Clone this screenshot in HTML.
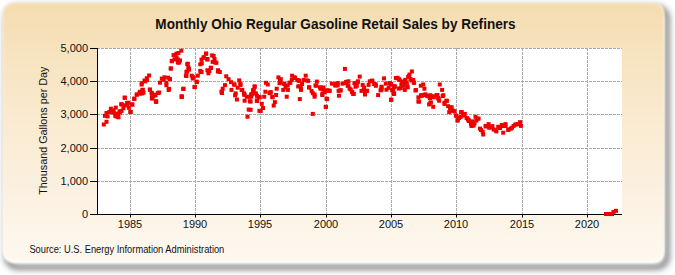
<!DOCTYPE html>
<html><head><meta charset="utf-8"><style>
html,body{margin:0;padding:0;background:#fff;}
body{width:675px;height:275px;overflow:hidden;position:relative;}
svg{position:absolute;left:0;top:0;}
text{font-family:"Liberation Sans",sans-serif;}
</style></head><body>
<svg width="675" height="275" viewBox="0 0 675 275">
<defs>
<linearGradient id="bg" x1="0" y1="0" x2="0" y2="1">
<stop offset="0" stop-color="#F5DDB1"/>
<stop offset="0.5" stop-color="#FAEBD3"/>
<stop offset="1" stop-color="#FEF8F0"/>
</linearGradient>
<filter id="sh" x="-10%" y="-10%" width="120%" height="120%"><feGaussianBlur stdDeviation="3.2"/></filter>
<filter id="sb" x="-5%" y="-5%" width="110%" height="110%"><feGaussianBlur stdDeviation="1"/></filter>
</defs>
<rect x="7" y="8" width="660" height="259" rx="10" ry="10" fill="none" stroke="#3c3c3c" stroke-width="3.5" filter="url(#sh)"/>
<rect x="3" y="3" width="661" height="260" rx="10" ry="10" fill="#fff" filter="url(#sb)"/>
<rect x="3" y="3" width="661" height="258" rx="10" ry="10" fill="url(#bg)" filter="url(#sb)"/>
<rect x="97" y="48" width="525" height="166" fill="#fff"/>
<line x1="97" y1="181.5" x2="622" y2="181.5" stroke="#a8a8a8" stroke-width="1" stroke-dasharray="3,1"/>
<line x1="97" y1="148.5" x2="622" y2="148.5" stroke="#a8a8a8" stroke-width="1" stroke-dasharray="3,1"/>
<line x1="97" y1="114.5" x2="622" y2="114.5" stroke="#a8a8a8" stroke-width="1" stroke-dasharray="3,1"/>
<line x1="97" y1="81.5" x2="622" y2="81.5" stroke="#a8a8a8" stroke-width="1" stroke-dasharray="3,1"/>
<line x1="97" y1="48.5" x2="622" y2="48.5" stroke="#a8a8a8" stroke-width="1" stroke-dasharray="3,1"/>
<line x1="130.5" y1="48" x2="130.5" y2="214" stroke="#a8a8a8" stroke-width="1" stroke-dasharray="3,1"/>
<line x1="195.5" y1="48" x2="195.5" y2="214" stroke="#a8a8a8" stroke-width="1" stroke-dasharray="3,1"/>
<line x1="260.5" y1="48" x2="260.5" y2="214" stroke="#a8a8a8" stroke-width="1" stroke-dasharray="3,1"/>
<line x1="326.5" y1="48" x2="326.5" y2="214" stroke="#a8a8a8" stroke-width="1" stroke-dasharray="3,1"/>
<line x1="391.5" y1="48" x2="391.5" y2="214" stroke="#a8a8a8" stroke-width="1" stroke-dasharray="3,1"/>
<line x1="456.5" y1="48" x2="456.5" y2="214" stroke="#a8a8a8" stroke-width="1" stroke-dasharray="3,1"/>
<line x1="522.5" y1="48" x2="522.5" y2="214" stroke="#a8a8a8" stroke-width="1" stroke-dasharray="3,1"/>
<line x1="587.5" y1="48" x2="587.5" y2="214" stroke="#a8a8a8" stroke-width="1" stroke-dasharray="3,1"/>
<line x1="97.5" y1="48" x2="97.5" y2="215" stroke="#000" stroke-width="1"/>
<line x1="97" y1="214.5" x2="622" y2="214.5" stroke="#000" stroke-width="1"/>
<line x1="90" y1="214.5" x2="97" y2="214.5" stroke="#000" stroke-width="1"/>
<text transform="translate(88,217.7) scale(1,1.07)" font-size="11" text-anchor="end" fill="#111">0</text>
<line x1="90" y1="181.5" x2="97" y2="181.5" stroke="#000" stroke-width="1"/>
<text transform="translate(88,184.7) scale(1,1.07)" font-size="11" text-anchor="end" fill="#111">1,000</text>
<line x1="90" y1="148.5" x2="97" y2="148.5" stroke="#000" stroke-width="1"/>
<text transform="translate(88,151.7) scale(1,1.07)" font-size="11" text-anchor="end" fill="#111">2,000</text>
<line x1="90" y1="114.5" x2="97" y2="114.5" stroke="#000" stroke-width="1"/>
<text transform="translate(88,117.7) scale(1,1.07)" font-size="11" text-anchor="end" fill="#111">3,000</text>
<line x1="90" y1="81.5" x2="97" y2="81.5" stroke="#000" stroke-width="1"/>
<text transform="translate(88,84.7) scale(1,1.07)" font-size="11" text-anchor="end" fill="#111">4,000</text>
<line x1="90" y1="48.5" x2="97" y2="48.5" stroke="#000" stroke-width="1"/>
<text transform="translate(88,51.7) scale(1,1.07)" font-size="11" text-anchor="end" fill="#111">5,000</text>
<line x1="130.5" y1="215" x2="130.5" y2="217.5" stroke="#000" stroke-width="1"/>
<text transform="translate(130.0,227.7) scale(1,1.07)" font-size="11" text-anchor="middle" fill="#111">1985</text>
<line x1="195.5" y1="215" x2="195.5" y2="217.5" stroke="#000" stroke-width="1"/>
<text transform="translate(195.0,227.7) scale(1,1.07)" font-size="11" text-anchor="middle" fill="#111">1990</text>
<line x1="260.5" y1="215" x2="260.5" y2="217.5" stroke="#000" stroke-width="1"/>
<text transform="translate(260.0,227.7) scale(1,1.07)" font-size="11" text-anchor="middle" fill="#111">1995</text>
<line x1="326.5" y1="215" x2="326.5" y2="217.5" stroke="#000" stroke-width="1"/>
<text transform="translate(326.0,227.7) scale(1,1.07)" font-size="11" text-anchor="middle" fill="#111">2000</text>
<line x1="391.5" y1="215" x2="391.5" y2="217.5" stroke="#000" stroke-width="1"/>
<text transform="translate(391.0,227.7) scale(1,1.07)" font-size="11" text-anchor="middle" fill="#111">2005</text>
<line x1="456.5" y1="215" x2="456.5" y2="217.5" stroke="#000" stroke-width="1"/>
<text transform="translate(456.0,227.7) scale(1,1.07)" font-size="11" text-anchor="middle" fill="#111">2010</text>
<line x1="522.5" y1="215" x2="522.5" y2="217.5" stroke="#000" stroke-width="1"/>
<text transform="translate(522.0,227.7) scale(1,1.07)" font-size="11" text-anchor="middle" fill="#111">2015</text>
<line x1="587.5" y1="215" x2="587.5" y2="217.5" stroke="#000" stroke-width="1"/>
<text transform="translate(587.0,227.7) scale(1,1.07)" font-size="11" text-anchor="middle" fill="#111">2020</text>
<rect x="101.8" y="122.5" width="4" height="4" fill="#EE0000"/>
<rect x="104.5" y="119.8" width="4" height="4" fill="#EE0000"/>
<rect x="102.9" y="113.8" width="4" height="4" fill="#EE0000"/>
<rect x="105.6" y="114.4" width="4" height="4" fill="#EE0000"/>
<rect x="104.5" y="111.0" width="4" height="4" fill="#EE0000"/>
<rect x="107.3" y="110.0" width="4" height="4" fill="#EE0000"/>
<rect x="108.9" y="106.7" width="4" height="4" fill="#EE0000"/>
<rect x="111.6" y="108.4" width="4" height="4" fill="#EE0000"/>
<rect x="113.8" y="105.6" width="4" height="4" fill="#EE0000"/>
<rect x="113.3" y="113.8" width="4" height="4" fill="#EE0000"/>
<rect x="116.0" y="114.4" width="4" height="4" fill="#EE0000"/>
<rect x="117.6" y="109.5" width="4" height="4" fill="#EE0000"/>
<rect x="119.8" y="102.4" width="4" height="4" fill="#EE0000"/>
<rect x="121.4" y="106.2" width="4" height="4" fill="#EE0000"/>
<rect x="111.0" y="109.2" width="4" height="4" fill="#EE0000"/>
<rect x="125.1" y="103.3" width="4" height="4" fill="#EE0000"/>
<rect x="128.3" y="110.1" width="4" height="4" fill="#EE0000"/>
<rect x="130.5" y="102.8" width="4" height="4" fill="#EE0000"/>
<rect x="122.8" y="95.7" width="4" height="4" fill="#EE0000"/>
<rect x="126.0" y="100.7" width="4" height="4" fill="#EE0000"/>
<rect x="132.4" y="96.6" width="4" height="4" fill="#EE0000"/>
<rect x="135.1" y="92.5" width="4" height="4" fill="#EE0000"/>
<rect x="137.8" y="89.8" width="4" height="4" fill="#EE0000"/>
<rect x="140.5" y="88.0" width="4" height="4" fill="#EE0000"/>
<rect x="141.5" y="90.7" width="4" height="4" fill="#EE0000"/>
<rect x="139.6" y="82.5" width="4" height="4" fill="#EE0000"/>
<rect x="143.3" y="79.4" width="4" height="4" fill="#EE0000"/>
<rect x="145.0" y="78.0" width="4" height="4" fill="#EE0000"/>
<rect x="147.8" y="87.5" width="4" height="4" fill="#EE0000"/>
<rect x="149.6" y="90.7" width="4" height="4" fill="#EE0000"/>
<rect x="150.5" y="96.2" width="4" height="4" fill="#EE0000"/>
<rect x="152.4" y="93.5" width="4" height="4" fill="#EE0000"/>
<rect x="154.2" y="99.8" width="4" height="4" fill="#EE0000"/>
<rect x="147.1" y="73.5" width="4" height="4" fill="#EE0000"/>
<rect x="144.8" y="76.2" width="4" height="4" fill="#EE0000"/>
<rect x="142.5" y="78.5" width="4" height="4" fill="#EE0000"/>
<rect x="139.8" y="81.2" width="4" height="4" fill="#EE0000"/>
<rect x="159.8" y="76.6" width="4" height="4" fill="#EE0000"/>
<rect x="162.5" y="75.3" width="4" height="4" fill="#EE0000"/>
<rect x="166.2" y="75.7" width="4" height="4" fill="#EE0000"/>
<rect x="168.0" y="77.1" width="4" height="4" fill="#EE0000"/>
<rect x="158.0" y="80.7" width="4" height="4" fill="#EE0000"/>
<rect x="164.4" y="80.7" width="4" height="4" fill="#EE0000"/>
<rect x="168.9" y="66.6" width="4" height="4" fill="#EE0000"/>
<rect x="169.8" y="58.9" width="4" height="4" fill="#EE0000"/>
<rect x="176.2" y="60.7" width="4" height="4" fill="#EE0000"/>
<rect x="178.0" y="58.5" width="4" height="4" fill="#EE0000"/>
<rect x="185.3" y="62.1" width="4" height="4" fill="#EE0000"/>
<rect x="184.4" y="69.8" width="4" height="4" fill="#EE0000"/>
<rect x="184.4" y="73.9" width="4" height="4" fill="#EE0000"/>
<rect x="140.7" y="87.8" width="4" height="4" fill="#EE0000"/>
<rect x="139.8" y="91.5" width="4" height="4" fill="#EE0000"/>
<rect x="148.0" y="87.8" width="4" height="4" fill="#EE0000"/>
<rect x="149.8" y="91.5" width="4" height="4" fill="#EE0000"/>
<rect x="149.8" y="96.5" width="4" height="4" fill="#EE0000"/>
<rect x="153.9" y="99.2" width="4" height="4" fill="#EE0000"/>
<rect x="153.5" y="93.3" width="4" height="4" fill="#EE0000"/>
<rect x="157.1" y="90.5" width="4" height="4" fill="#EE0000"/>
<rect x="161.6" y="77.8" width="4" height="4" fill="#EE0000"/>
<rect x="164.4" y="83.3" width="4" height="4" fill="#EE0000"/>
<rect x="167.1" y="86.9" width="4" height="4" fill="#EE0000"/>
<rect x="181.2" y="86.9" width="4" height="4" fill="#EE0000"/>
<rect x="179.8" y="95.1" width="4" height="4" fill="#EE0000"/>
<rect x="192.5" y="85.1" width="4" height="4" fill="#EE0000"/>
<rect x="194.8" y="80.1" width="4" height="4" fill="#EE0000"/>
<rect x="190.7" y="76.5" width="4" height="4" fill="#EE0000"/>
<rect x="179.3" y="48.7" width="4" height="4" fill="#EE0000"/>
<rect x="176.4" y="51.0" width="4" height="4" fill="#EE0000"/>
<rect x="172.8" y="53.4" width="4" height="4" fill="#EE0000"/>
<rect x="174.6" y="55.8" width="4" height="4" fill="#EE0000"/>
<rect x="169.8" y="59.3" width="4" height="4" fill="#EE0000"/>
<rect x="175.8" y="59.9" width="4" height="4" fill="#EE0000"/>
<rect x="168.7" y="66.4" width="4" height="4" fill="#EE0000"/>
<rect x="185.8" y="61.7" width="4" height="4" fill="#EE0000"/>
<rect x="187.0" y="67.6" width="4" height="4" fill="#EE0000"/>
<rect x="204.2" y="51.6" width="4" height="4" fill="#EE0000"/>
<rect x="201.8" y="55.2" width="4" height="4" fill="#EE0000"/>
<rect x="199.5" y="57.6" width="4" height="4" fill="#EE0000"/>
<rect x="210.1" y="53.4" width="4" height="4" fill="#EE0000"/>
<rect x="205.4" y="57.0" width="4" height="4" fill="#EE0000"/>
<rect x="212.5" y="57.0" width="4" height="4" fill="#EE0000"/>
<rect x="213.1" y="60.5" width="4" height="4" fill="#EE0000"/>
<rect x="198.3" y="62.3" width="4" height="4" fill="#EE0000"/>
<rect x="209.0" y="65.8" width="4" height="4" fill="#EE0000"/>
<rect x="198.3" y="68.8" width="4" height="4" fill="#EE0000"/>
<rect x="205.4" y="68.2" width="4" height="4" fill="#EE0000"/>
<rect x="216.1" y="68.2" width="4" height="4" fill="#EE0000"/>
<rect x="186.3" y="65.4" width="4" height="4" fill="#EE0000"/>
<rect x="185.1" y="69.5" width="4" height="4" fill="#EE0000"/>
<rect x="183.9" y="73.7" width="4" height="4" fill="#EE0000"/>
<rect x="189.8" y="73.7" width="4" height="4" fill="#EE0000"/>
<rect x="191.6" y="75.4" width="4" height="4" fill="#EE0000"/>
<rect x="195.8" y="73.7" width="4" height="4" fill="#EE0000"/>
<rect x="198.7" y="70.1" width="4" height="4" fill="#EE0000"/>
<rect x="194.6" y="79.6" width="4" height="4" fill="#EE0000"/>
<rect x="192.8" y="84.9" width="4" height="4" fill="#EE0000"/>
<rect x="181.6" y="86.7" width="4" height="4" fill="#EE0000"/>
<rect x="179.8" y="94.4" width="4" height="4" fill="#EE0000"/>
<rect x="206.4" y="71.3" width="4" height="4" fill="#EE0000"/>
<rect x="208.8" y="66.0" width="4" height="4" fill="#EE0000"/>
<rect x="215.9" y="69.5" width="4" height="4" fill="#EE0000"/>
<rect x="224.2" y="74.3" width="4" height="4" fill="#EE0000"/>
<rect x="226.6" y="77.2" width="4" height="4" fill="#EE0000"/>
<rect x="229.0" y="80.2" width="4" height="4" fill="#EE0000"/>
<rect x="232.5" y="82.6" width="4" height="4" fill="#EE0000"/>
<rect x="237.2" y="78.4" width="4" height="4" fill="#EE0000"/>
<rect x="238.4" y="81.9" width="4" height="4" fill="#EE0000"/>
<rect x="223.0" y="83.1" width="4" height="4" fill="#EE0000"/>
<rect x="220.7" y="86.7" width="4" height="4" fill="#EE0000"/>
<rect x="219.5" y="89.7" width="4" height="4" fill="#EE0000"/>
<rect x="229.5" y="87.9" width="4" height="4" fill="#EE0000"/>
<rect x="233.7" y="91.4" width="4" height="4" fill="#EE0000"/>
<rect x="239.6" y="87.9" width="4" height="4" fill="#EE0000"/>
<rect x="242.0" y="91.4" width="4" height="4" fill="#EE0000"/>
<rect x="249.1" y="92.6" width="4" height="4" fill="#EE0000"/>
<rect x="252.6" y="84.9" width="4" height="4" fill="#EE0000"/>
<rect x="251.5" y="89.1" width="4" height="4" fill="#EE0000"/>
<rect x="255.0" y="93.8" width="4" height="4" fill="#EE0000"/>
<rect x="220.0" y="91.0" width="4" height="4" fill="#EE0000"/>
<rect x="233.1" y="93.4" width="4" height="4" fill="#EE0000"/>
<rect x="234.9" y="97.5" width="4" height="4" fill="#EE0000"/>
<rect x="242.6" y="92.8" width="4" height="4" fill="#EE0000"/>
<rect x="242.6" y="98.7" width="4" height="4" fill="#EE0000"/>
<rect x="247.9" y="99.3" width="4" height="4" fill="#EE0000"/>
<rect x="249.1" y="94.0" width="4" height="4" fill="#EE0000"/>
<rect x="255.0" y="98.7" width="4" height="4" fill="#EE0000"/>
<rect x="256.8" y="95.1" width="4" height="4" fill="#EE0000"/>
<rect x="246.7" y="107.6" width="4" height="4" fill="#EE0000"/>
<rect x="245.5" y="114.7" width="4" height="4" fill="#EE0000"/>
<rect x="257.4" y="108.8" width="4" height="4" fill="#EE0000"/>
<rect x="252.7" y="84.3" width="4" height="4" fill="#EE0000"/>
<rect x="251.6" y="88.5" width="4" height="4" fill="#EE0000"/>
<rect x="253.9" y="91.4" width="4" height="4" fill="#EE0000"/>
<rect x="264.0" y="80.8" width="4" height="4" fill="#EE0000"/>
<rect x="265.8" y="82.5" width="4" height="4" fill="#EE0000"/>
<rect x="263.4" y="89.7" width="4" height="4" fill="#EE0000"/>
<rect x="268.7" y="90.3" width="4" height="4" fill="#EE0000"/>
<rect x="274.7" y="86.7" width="4" height="4" fill="#EE0000"/>
<rect x="276.4" y="75.4" width="4" height="4" fill="#EE0000"/>
<rect x="278.8" y="77.2" width="4" height="4" fill="#EE0000"/>
<rect x="278.2" y="80.2" width="4" height="4" fill="#EE0000"/>
<rect x="282.4" y="82.0" width="4" height="4" fill="#EE0000"/>
<rect x="283.5" y="85.5" width="4" height="4" fill="#EE0000"/>
<rect x="281.2" y="87.9" width="4" height="4" fill="#EE0000"/>
<rect x="285.9" y="87.9" width="4" height="4" fill="#EE0000"/>
<rect x="288.3" y="80.8" width="4" height="4" fill="#EE0000"/>
<rect x="290.1" y="73.7" width="4" height="4" fill="#EE0000"/>
<rect x="293.0" y="76.0" width="4" height="4" fill="#EE0000"/>
<rect x="296.6" y="78.4" width="4" height="4" fill="#EE0000"/>
<rect x="297.8" y="84.3" width="4" height="4" fill="#EE0000"/>
<rect x="299.0" y="87.9" width="4" height="4" fill="#EE0000"/>
<rect x="300.1" y="82.0" width="4" height="4" fill="#EE0000"/>
<rect x="303.7" y="73.7" width="4" height="4" fill="#EE0000"/>
<rect x="304.9" y="78.4" width="4" height="4" fill="#EE0000"/>
<rect x="307.2" y="85.5" width="4" height="4" fill="#EE0000"/>
<rect x="309.6" y="89.1" width="4" height="4" fill="#EE0000"/>
<rect x="312.6" y="92.6" width="4" height="4" fill="#EE0000"/>
<rect x="314.9" y="79.6" width="4" height="4" fill="#EE0000"/>
<rect x="314.3" y="83.7" width="4" height="4" fill="#EE0000"/>
<rect x="318.5" y="86.7" width="4" height="4" fill="#EE0000"/>
<rect x="321.5" y="85.5" width="4" height="4" fill="#EE0000"/>
<rect x="322.6" y="90.3" width="4" height="4" fill="#EE0000"/>
<rect x="326.2" y="88.5" width="4" height="4" fill="#EE0000"/>
<rect x="250.4" y="91.8" width="4" height="4" fill="#EE0000"/>
<rect x="249.2" y="94.7" width="4" height="4" fill="#EE0000"/>
<rect x="248.6" y="99.5" width="4" height="4" fill="#EE0000"/>
<rect x="248.6" y="107.8" width="4" height="4" fill="#EE0000"/>
<rect x="255.1" y="98.9" width="4" height="4" fill="#EE0000"/>
<rect x="257.5" y="95.3" width="4" height="4" fill="#EE0000"/>
<rect x="262.2" y="94.7" width="4" height="4" fill="#EE0000"/>
<rect x="267.5" y="91.2" width="4" height="4" fill="#EE0000"/>
<rect x="270.5" y="95.3" width="4" height="4" fill="#EE0000"/>
<rect x="274.1" y="93.0" width="4" height="4" fill="#EE0000"/>
<rect x="272.9" y="100.1" width="4" height="4" fill="#EE0000"/>
<rect x="271.7" y="103.6" width="4" height="4" fill="#EE0000"/>
<rect x="259.8" y="101.8" width="4" height="4" fill="#EE0000"/>
<rect x="261.0" y="106.0" width="4" height="4" fill="#EE0000"/>
<rect x="258.7" y="109.0" width="4" height="4" fill="#EE0000"/>
<rect x="284.7" y="94.7" width="4" height="4" fill="#EE0000"/>
<rect x="297.8" y="97.1" width="4" height="4" fill="#EE0000"/>
<rect x="310.8" y="91.2" width="4" height="4" fill="#EE0000"/>
<rect x="312.6" y="94.7" width="4" height="4" fill="#EE0000"/>
<rect x="310.8" y="111.9" width="4" height="4" fill="#EE0000"/>
<rect x="320.3" y="93.0" width="4" height="4" fill="#EE0000"/>
<rect x="325.0" y="97.1" width="4" height="4" fill="#EE0000"/>
<rect x="323.8" y="104.8" width="4" height="4" fill="#EE0000"/>
<rect x="342.9" y="66.9" width="4" height="4" fill="#EE0000"/>
<rect x="319.2" y="85.8" width="4" height="4" fill="#EE0000"/>
<rect x="329.8" y="81.7" width="4" height="4" fill="#EE0000"/>
<rect x="333.4" y="82.9" width="4" height="4" fill="#EE0000"/>
<rect x="335.8" y="81.1" width="4" height="4" fill="#EE0000"/>
<rect x="340.5" y="81.7" width="4" height="4" fill="#EE0000"/>
<rect x="344.1" y="79.9" width="4" height="4" fill="#EE0000"/>
<rect x="346.4" y="79.3" width="4" height="4" fill="#EE0000"/>
<rect x="346.4" y="83.5" width="4" height="4" fill="#EE0000"/>
<rect x="348.8" y="87.6" width="4" height="4" fill="#EE0000"/>
<rect x="352.4" y="81.1" width="4" height="4" fill="#EE0000"/>
<rect x="355.9" y="79.3" width="4" height="4" fill="#EE0000"/>
<rect x="357.7" y="74.6" width="4" height="4" fill="#EE0000"/>
<rect x="353.5" y="84.7" width="4" height="4" fill="#EE0000"/>
<rect x="360.7" y="82.9" width="4" height="4" fill="#EE0000"/>
<rect x="361.8" y="87.6" width="4" height="4" fill="#EE0000"/>
<rect x="367.8" y="79.3" width="4" height="4" fill="#EE0000"/>
<rect x="370.1" y="78.7" width="4" height="4" fill="#EE0000"/>
<rect x="366.6" y="82.9" width="4" height="4" fill="#EE0000"/>
<rect x="373.7" y="82.3" width="4" height="4" fill="#EE0000"/>
<rect x="379.6" y="84.7" width="4" height="4" fill="#EE0000"/>
<rect x="382.0" y="76.4" width="4" height="4" fill="#EE0000"/>
<rect x="383.8" y="81.7" width="4" height="4" fill="#EE0000"/>
<rect x="387.9" y="81.1" width="4" height="4" fill="#EE0000"/>
<rect x="386.7" y="85.8" width="4" height="4" fill="#EE0000"/>
<rect x="392.6" y="84.7" width="4" height="4" fill="#EE0000"/>
<rect x="395.6" y="75.8" width="4" height="4" fill="#EE0000"/>
<rect x="320.4" y="91.9" width="4" height="4" fill="#EE0000"/>
<rect x="322.7" y="88.9" width="4" height="4" fill="#EE0000"/>
<rect x="324.5" y="96.6" width="4" height="4" fill="#EE0000"/>
<rect x="323.9" y="104.9" width="4" height="4" fill="#EE0000"/>
<rect x="327.5" y="88.9" width="4" height="4" fill="#EE0000"/>
<rect x="333.4" y="83.6" width="4" height="4" fill="#EE0000"/>
<rect x="338.7" y="88.3" width="4" height="4" fill="#EE0000"/>
<rect x="337.0" y="93.7" width="4" height="4" fill="#EE0000"/>
<rect x="347.6" y="86.6" width="4" height="4" fill="#EE0000"/>
<rect x="350.0" y="90.1" width="4" height="4" fill="#EE0000"/>
<rect x="351.8" y="91.9" width="4" height="4" fill="#EE0000"/>
<rect x="359.5" y="88.9" width="4" height="4" fill="#EE0000"/>
<rect x="363.0" y="92.5" width="4" height="4" fill="#EE0000"/>
<rect x="364.8" y="88.9" width="4" height="4" fill="#EE0000"/>
<rect x="376.1" y="93.1" width="4" height="4" fill="#EE0000"/>
<rect x="379.6" y="87.7" width="4" height="4" fill="#EE0000"/>
<rect x="384.4" y="87.7" width="4" height="4" fill="#EE0000"/>
<rect x="389.1" y="97.8" width="4" height="4" fill="#EE0000"/>
<rect x="390.3" y="88.3" width="4" height="4" fill="#EE0000"/>
<rect x="392.0" y="91.9" width="4" height="4" fill="#EE0000"/>
<rect x="396.8" y="86.6" width="4" height="4" fill="#EE0000"/>
<rect x="389.2" y="82.0" width="4" height="4" fill="#EE0000"/>
<rect x="390.4" y="87.9" width="4" height="4" fill="#EE0000"/>
<rect x="392.1" y="91.4" width="4" height="4" fill="#EE0000"/>
<rect x="392.7" y="84.3" width="4" height="4" fill="#EE0000"/>
<rect x="393.9" y="76.0" width="4" height="4" fill="#EE0000"/>
<rect x="396.9" y="77.2" width="4" height="4" fill="#EE0000"/>
<rect x="399.8" y="79.6" width="4" height="4" fill="#EE0000"/>
<rect x="398.7" y="86.1" width="4" height="4" fill="#EE0000"/>
<rect x="401.6" y="82.0" width="4" height="4" fill="#EE0000"/>
<rect x="402.8" y="87.9" width="4" height="4" fill="#EE0000"/>
<rect x="405.2" y="84.3" width="4" height="4" fill="#EE0000"/>
<rect x="403.4" y="77.8" width="4" height="4" fill="#EE0000"/>
<rect x="407.0" y="74.3" width="4" height="4" fill="#EE0000"/>
<rect x="409.9" y="69.5" width="4" height="4" fill="#EE0000"/>
<rect x="409.9" y="78.4" width="4" height="4" fill="#EE0000"/>
<rect x="411.7" y="80.8" width="4" height="4" fill="#EE0000"/>
<rect x="413.5" y="88.5" width="4" height="4" fill="#EE0000"/>
<rect x="418.8" y="83.7" width="4" height="4" fill="#EE0000"/>
<rect x="421.2" y="82.5" width="4" height="4" fill="#EE0000"/>
<rect x="422.4" y="86.7" width="4" height="4" fill="#EE0000"/>
<rect x="419.4" y="93.2" width="4" height="4" fill="#EE0000"/>
<rect x="423.5" y="93.2" width="4" height="4" fill="#EE0000"/>
<rect x="428.3" y="93.2" width="4" height="4" fill="#EE0000"/>
<rect x="437.8" y="82.5" width="4" height="4" fill="#EE0000"/>
<rect x="440.1" y="87.9" width="4" height="4" fill="#EE0000"/>
<rect x="441.3" y="93.2" width="4" height="4" fill="#EE0000"/>
<rect x="391.6" y="91.8" width="4" height="4" fill="#EE0000"/>
<rect x="389.2" y="97.7" width="4" height="4" fill="#EE0000"/>
<rect x="416.4" y="95.3" width="4" height="4" fill="#EE0000"/>
<rect x="416.4" y="99.5" width="4" height="4" fill="#EE0000"/>
<rect x="420.0" y="93.6" width="4" height="4" fill="#EE0000"/>
<rect x="423.5" y="92.4" width="4" height="4" fill="#EE0000"/>
<rect x="427.1" y="94.1" width="4" height="4" fill="#EE0000"/>
<rect x="428.3" y="100.7" width="4" height="4" fill="#EE0000"/>
<rect x="431.2" y="104.8" width="4" height="4" fill="#EE0000"/>
<rect x="431.8" y="95.3" width="4" height="4" fill="#EE0000"/>
<rect x="435.4" y="93.0" width="4" height="4" fill="#EE0000"/>
<rect x="436.6" y="97.1" width="4" height="4" fill="#EE0000"/>
<rect x="440.7" y="94.1" width="4" height="4" fill="#EE0000"/>
<rect x="442.5" y="100.7" width="4" height="4" fill="#EE0000"/>
<rect x="444.9" y="98.9" width="4" height="4" fill="#EE0000"/>
<rect x="446.1" y="104.2" width="4" height="4" fill="#EE0000"/>
<rect x="447.2" y="110.1" width="4" height="4" fill="#EE0000"/>
<rect x="449.6" y="105.4" width="4" height="4" fill="#EE0000"/>
<rect x="452.6" y="109.5" width="4" height="4" fill="#EE0000"/>
<rect x="454.4" y="113.7" width="4" height="4" fill="#EE0000"/>
<rect x="455.5" y="118.4" width="4" height="4" fill="#EE0000"/>
<rect x="459.1" y="110.1" width="4" height="4" fill="#EE0000"/>
<rect x="461.5" y="113.1" width="4" height="4" fill="#EE0000"/>
<rect x="465.0" y="116.1" width="4" height="4" fill="#EE0000"/>
<rect x="466.8" y="119.1" width="4" height="4" fill="#EE0000"/>
<rect x="449.2" y="105.4" width="4" height="4" fill="#EE0000"/>
<rect x="451.6" y="108.9" width="4" height="4" fill="#EE0000"/>
<rect x="453.9" y="113.7" width="4" height="4" fill="#EE0000"/>
<rect x="455.7" y="118.4" width="4" height="4" fill="#EE0000"/>
<rect x="458.7" y="114.8" width="4" height="4" fill="#EE0000"/>
<rect x="459.8" y="110.1" width="4" height="4" fill="#EE0000"/>
<rect x="462.8" y="111.9" width="4" height="4" fill="#EE0000"/>
<rect x="464.6" y="116.0" width="4" height="4" fill="#EE0000"/>
<rect x="467.0" y="118.4" width="4" height="4" fill="#EE0000"/>
<rect x="468.9" y="122.1" width="4" height="4" fill="#EE0000"/>
<rect x="471.6" y="123.5" width="4" height="4" fill="#EE0000"/>
<rect x="470.7" y="119.4" width="4" height="4" fill="#EE0000"/>
<rect x="473.5" y="114.8" width="4" height="4" fill="#EE0000"/>
<rect x="476.6" y="116.6" width="4" height="4" fill="#EE0000"/>
<rect x="478.0" y="126.6" width="4" height="4" fill="#EE0000"/>
<rect x="480.7" y="129.8" width="4" height="4" fill="#EE0000"/>
<rect x="481.2" y="132.5" width="4" height="4" fill="#EE0000"/>
<rect x="483.5" y="123.9" width="4" height="4" fill="#EE0000"/>
<rect x="486.6" y="122.1" width="4" height="4" fill="#EE0000"/>
<rect x="488.9" y="125.3" width="4" height="4" fill="#EE0000"/>
<rect x="491.6" y="127.5" width="4" height="4" fill="#EE0000"/>
<rect x="494.4" y="129.4" width="4" height="4" fill="#EE0000"/>
<rect x="496.2" y="124.8" width="4" height="4" fill="#EE0000"/>
<rect x="499.8" y="123.0" width="4" height="4" fill="#EE0000"/>
<rect x="503.5" y="122.1" width="4" height="4" fill="#EE0000"/>
<rect x="501.2" y="130.7" width="4" height="4" fill="#EE0000"/>
<rect x="506.2" y="128.0" width="4" height="4" fill="#EE0000"/>
<rect x="508.9" y="126.6" width="4" height="4" fill="#EE0000"/>
<rect x="511.6" y="123.9" width="4" height="4" fill="#EE0000"/>
<rect x="514.4" y="122.5" width="4" height="4" fill="#EE0000"/>
<rect x="518.0" y="120.3" width="4" height="4" fill="#EE0000"/>
<rect x="518.9" y="123.9" width="4" height="4" fill="#EE0000"/>
<rect x="122.7" y="95.7" width="4" height="4" fill="#EE0000"/>
<rect x="119.2" y="102.2" width="4" height="4" fill="#EE0000"/>
<rect x="122.7" y="103.4" width="4" height="4" fill="#EE0000"/>
<rect x="125.1" y="101.0" width="4" height="4" fill="#EE0000"/>
<rect x="126.9" y="105.8" width="4" height="4" fill="#EE0000"/>
<rect x="128.7" y="109.9" width="4" height="4" fill="#EE0000"/>
<rect x="129.8" y="102.2" width="4" height="4" fill="#EE0000"/>
<rect x="118.6" y="109.3" width="4" height="4" fill="#EE0000"/>
<rect x="132.2" y="96.9" width="4" height="4" fill="#EE0000"/>
<rect x="134.6" y="92.7" width="4" height="4" fill="#EE0000"/>
<rect x="137.5" y="91.6" width="4" height="4" fill="#EE0000"/>
<rect x="140.5" y="89.8" width="4" height="4" fill="#EE0000"/>
<rect x="150.0" y="95.1" width="4" height="4" fill="#EE0000"/>
<rect x="152.4" y="92.7" width="4" height="4" fill="#EE0000"/>
<rect x="155.9" y="91.0" width="4" height="4" fill="#EE0000"/>
<rect x="154.1" y="99.8" width="4" height="4" fill="#EE0000"/>
<rect x="166.6" y="88.0" width="4" height="4" fill="#EE0000"/>
<rect x="179.6" y="94.5" width="4" height="4" fill="#EE0000"/>
<rect x="479.0" y="128.0" width="4" height="4" fill="#EE0000"/>
<rect x="484.0" y="124.5" width="4" height="4" fill="#EE0000"/>
<rect x="487.1" y="125.7" width="4" height="4" fill="#EE0000"/>
<rect x="490.4" y="124.1" width="4" height="4" fill="#EE0000"/>
<rect x="493.6" y="128.2" width="4" height="4" fill="#EE0000"/>
<rect x="498.0" y="126.0" width="4" height="4" fill="#EE0000"/>
<rect x="500.2" y="124.1" width="4" height="4" fill="#EE0000"/>
<rect x="503.5" y="124.0" width="4" height="4" fill="#EE0000"/>
<rect x="506.7" y="127.4" width="4" height="4" fill="#EE0000"/>
<rect x="510.0" y="125.7" width="4" height="4" fill="#EE0000"/>
<rect x="513.3" y="122.5" width="4" height="4" fill="#EE0000"/>
<rect x="516.0" y="122.0" width="4" height="4" fill="#EE0000"/>
<rect x="518.2" y="120.5" width="4" height="4" fill="#EE0000"/>
<rect x="470.7" y="123.3" width="4" height="4" fill="#EE0000"/>
<rect x="469.1" y="121.6" width="4" height="4" fill="#EE0000"/>
<rect x="475.6" y="116.7" width="4" height="4" fill="#EE0000"/>
<rect x="460.9" y="113.5" width="4" height="4" fill="#EE0000"/>
<rect x="457.0" y="116.0" width="4" height="4" fill="#EE0000"/>
<rect x="114.2" y="114.4" width="4" height="4" fill="#EE0000"/>
<rect x="116.5" y="115.3" width="4" height="4" fill="#EE0000"/>
<rect x="115.1" y="111.6" width="4" height="4" fill="#EE0000"/>
<rect x="117.8" y="110.7" width="4" height="4" fill="#EE0000"/>
<rect x="111.5" y="110.7" width="4" height="4" fill="#EE0000"/>
<rect x="108.7" y="109.8" width="4" height="4" fill="#EE0000"/>
<rect x="119.6" y="108.9" width="4" height="4" fill="#EE0000"/>
<rect x="217.8" y="70.0" width="4" height="4" fill="#EE0000"/>
<rect x="207.4" y="69.1" width="4" height="4" fill="#EE0000"/>
<rect x="199.6" y="70.0" width="4" height="4" fill="#EE0000"/>
<rect x="186.9" y="66.8" width="4" height="4" fill="#EE0000"/>
<rect x="191.0" y="75.5" width="4" height="4" fill="#EE0000"/>
<rect x="278.0" y="78.0" width="4" height="4" fill="#EE0000"/>
<rect x="277.5" y="81.2" width="4" height="4" fill="#EE0000"/>
<rect x="281.6" y="81.6" width="4" height="4" fill="#EE0000"/>
<rect x="285.7" y="83.5" width="4" height="4" fill="#EE0000"/>
<rect x="287.5" y="80.7" width="4" height="4" fill="#EE0000"/>
<rect x="289.8" y="78.0" width="4" height="4" fill="#EE0000"/>
<rect x="292.5" y="75.3" width="4" height="4" fill="#EE0000"/>
<rect x="295.3" y="78.0" width="4" height="4" fill="#EE0000"/>
<rect x="297.1" y="78.9" width="4" height="4" fill="#EE0000"/>
<rect x="296.2" y="84.4" width="4" height="4" fill="#EE0000"/>
<rect x="298.9" y="86.2" width="4" height="4" fill="#EE0000"/>
<rect x="301.6" y="78.0" width="4" height="4" fill="#EE0000"/>
<rect x="306.2" y="78.9" width="4" height="4" fill="#EE0000"/>
<rect x="307.1" y="85.3" width="4" height="4" fill="#EE0000"/>
<rect x="313.5" y="83.5" width="4" height="4" fill="#EE0000"/>
<rect x="318.0" y="85.3" width="4" height="4" fill="#EE0000"/>
<rect x="320.7" y="87.5" width="4" height="4" fill="#EE0000"/>
<rect x="238.5" y="83.0" width="4" height="4" fill="#EE0000"/>
<rect x="235.7" y="85.7" width="4" height="4" fill="#EE0000"/>
<rect x="240.3" y="88.0" width="4" height="4" fill="#EE0000"/>
<rect x="242.1" y="92.5" width="4" height="4" fill="#EE0000"/>
<rect x="244.8" y="94.8" width="4" height="4" fill="#EE0000"/>
<rect x="247.5" y="94.8" width="4" height="4" fill="#EE0000"/>
<rect x="249.4" y="92.5" width="4" height="4" fill="#EE0000"/>
<rect x="251.2" y="88.0" width="4" height="4" fill="#EE0000"/>
<rect x="254.8" y="98.5" width="4" height="4" fill="#EE0000"/>
<rect x="257.5" y="95.3" width="4" height="4" fill="#EE0000"/>
<rect x="268.5" y="90.3" width="4" height="4" fill="#EE0000"/>
<rect x="270.3" y="94.8" width="4" height="4" fill="#EE0000"/>
<rect x="219.8" y="89.8" width="4" height="4" fill="#EE0000"/>
<rect x="232.1" y="82.5" width="4" height="4" fill="#EE0000"/>
<rect x="174.4" y="51.7" width="4" height="4" fill="#EE0000"/>
<rect x="171.6" y="53.1" width="4" height="4" fill="#EE0000"/>
<rect x="176.2" y="57.6" width="4" height="4" fill="#EE0000"/>
<rect x="177.1" y="60.4" width="4" height="4" fill="#EE0000"/>
<rect x="172.5" y="57.5" width="4" height="4" fill="#EE0000"/>
<rect x="203.9" y="51.7" width="4" height="4" fill="#EE0000"/>
<rect x="201.6" y="55.8" width="4" height="4" fill="#EE0000"/>
<rect x="205.3" y="57.6" width="4" height="4" fill="#EE0000"/>
<rect x="199.8" y="61.3" width="4" height="4" fill="#EE0000"/>
<rect x="211.6" y="54.0" width="4" height="4" fill="#EE0000"/>
<rect x="210.7" y="59.9" width="4" height="4" fill="#EE0000"/>
<rect x="214.4" y="60.8" width="4" height="4" fill="#EE0000"/>
<rect x="208.9" y="65.8" width="4" height="4" fill="#EE0000"/>
<rect x="430.7" y="94.2" width="4" height="4" fill="#EE0000"/>
<rect x="434.4" y="93.3" width="4" height="4" fill="#EE0000"/>
<rect x="436.2" y="96.0" width="4" height="4" fill="#EE0000"/>
<rect x="437.1" y="98.7" width="4" height="4" fill="#EE0000"/>
<rect x="428.9" y="100.5" width="4" height="4" fill="#EE0000"/>
<rect x="427.1" y="102.4" width="4" height="4" fill="#EE0000"/>
<rect x="425.3" y="94.2" width="4" height="4" fill="#EE0000"/>
<rect x="428.0" y="96.0" width="4" height="4" fill="#EE0000"/>
<rect x="422.5" y="92.8" width="4" height="4" fill="#EE0000"/>
<rect x="418.9" y="93.7" width="4" height="4" fill="#EE0000"/>
<rect x="442.5" y="101.9" width="4" height="4" fill="#EE0000"/>
<rect x="444.4" y="98.7" width="4" height="4" fill="#EE0000"/>
<rect x="448.0" y="106.0" width="4" height="4" fill="#EE0000"/>
<rect x="450.7" y="108.7" width="4" height="4" fill="#EE0000"/>
<rect x="417.1" y="99.6" width="4" height="4" fill="#EE0000"/>
<rect x="407.5" y="72.5" width="4" height="4" fill="#EE0000"/>
<rect x="406.2" y="74.8" width="4" height="4" fill="#EE0000"/>
<rect x="394.8" y="76.2" width="4" height="4" fill="#EE0000"/>
<rect x="397.5" y="78.0" width="4" height="4" fill="#EE0000"/>
<rect x="400.3" y="79.8" width="4" height="4" fill="#EE0000"/>
<rect x="403.0" y="78.9" width="4" height="4" fill="#EE0000"/>
<rect x="404.8" y="80.7" width="4" height="4" fill="#EE0000"/>
<rect x="408.5" y="77.1" width="4" height="4" fill="#EE0000"/>
<rect x="411.2" y="78.0" width="4" height="4" fill="#EE0000"/>
<rect x="412.1" y="80.7" width="4" height="4" fill="#EE0000"/>
<rect x="399.4" y="82.5" width="4" height="4" fill="#EE0000"/>
<rect x="401.2" y="83.9" width="4" height="4" fill="#EE0000"/>
<rect x="405.7" y="85.3" width="4" height="4" fill="#EE0000"/>
<rect x="388.5" y="82.5" width="4" height="4" fill="#EE0000"/>
<rect x="392.1" y="84.4" width="4" height="4" fill="#EE0000"/>
<rect x="391.2" y="88.0" width="4" height="4" fill="#EE0000"/>
<rect x="413.9" y="88.0" width="4" height="4" fill="#EE0000"/>
<rect x="333.9" y="82.0" width="4" height="4" fill="#EE0000"/>
<rect x="335.7" y="83.4" width="4" height="4" fill="#EE0000"/>
<rect x="336.6" y="88.8" width="4" height="4" fill="#EE0000"/>
<rect x="338.4" y="88.4" width="4" height="4" fill="#EE0000"/>
<rect x="343.9" y="81.1" width="4" height="4" fill="#EE0000"/>
<rect x="345.7" y="83.8" width="4" height="4" fill="#EE0000"/>
<rect x="350.3" y="90.2" width="4" height="4" fill="#EE0000"/>
<rect x="351.2" y="92.0" width="4" height="4" fill="#EE0000"/>
<rect x="354.8" y="83.8" width="4" height="4" fill="#EE0000"/>
<rect x="355.7" y="80.2" width="4" height="4" fill="#EE0000"/>
<rect x="362.1" y="85.6" width="4" height="4" fill="#EE0000"/>
<rect x="363.0" y="91.1" width="4" height="4" fill="#EE0000"/>
<rect x="364.8" y="88.8" width="4" height="4" fill="#EE0000"/>
<rect x="370.3" y="78.8" width="4" height="4" fill="#EE0000"/>
<rect x="372.1" y="82.0" width="4" height="4" fill="#EE0000"/>
<rect x="373.9" y="83.8" width="4" height="4" fill="#EE0000"/>
<rect x="378.5" y="88.4" width="4" height="4" fill="#EE0000"/>
<rect x="379.4" y="85.6" width="4" height="4" fill="#EE0000"/>
<rect x="327.5" y="88.8" width="4" height="4" fill="#EE0000"/>
<rect x="324.8" y="88.4" width="4" height="4" fill="#EE0000"/>
<rect x="469.5" y="124.0" width="4" height="4" fill="#EE0000"/>
<rect x="472.5" y="121.5" width="4" height="4" fill="#EE0000"/>
<rect x="474.5" y="118.5" width="4" height="4" fill="#EE0000"/>
<rect x="466.0" y="117.5" width="4" height="4" fill="#EE0000"/>
<rect x="604.0" y="212.0" width="4" height="4" fill="#EE0000"/>
<rect x="606.0" y="212.0" width="4" height="4" fill="#EE0000"/>
<rect x="608.0" y="212.0" width="4" height="4" fill="#EE0000"/>
<rect x="610.0" y="212.0" width="4" height="4" fill="#EE0000"/>
<rect x="611.5" y="210.0" width="4" height="4" fill="#EE0000"/>
<rect x="614.0" y="208.8" width="4" height="4" fill="#EE0000"/>
<text transform="translate(335.5,28.9) scale(1,1.11)" font-size="13.6" font-weight="bold" text-anchor="middle" fill="#111">Monthly Ohio Regular Gasoline Retail Sales by Refiners</text>
<text transform="translate(47.3,130.65) rotate(-90) scale(1,1.06)" font-size="10.8" text-anchor="middle" fill="#111">Thousand Gallons per Day</text>
<text transform="translate(29.4,253) scale(1,1.12)" font-size="9.32" fill="#111">Source: U.S. Energy Information Administration</text>
</svg>
</body></html>
